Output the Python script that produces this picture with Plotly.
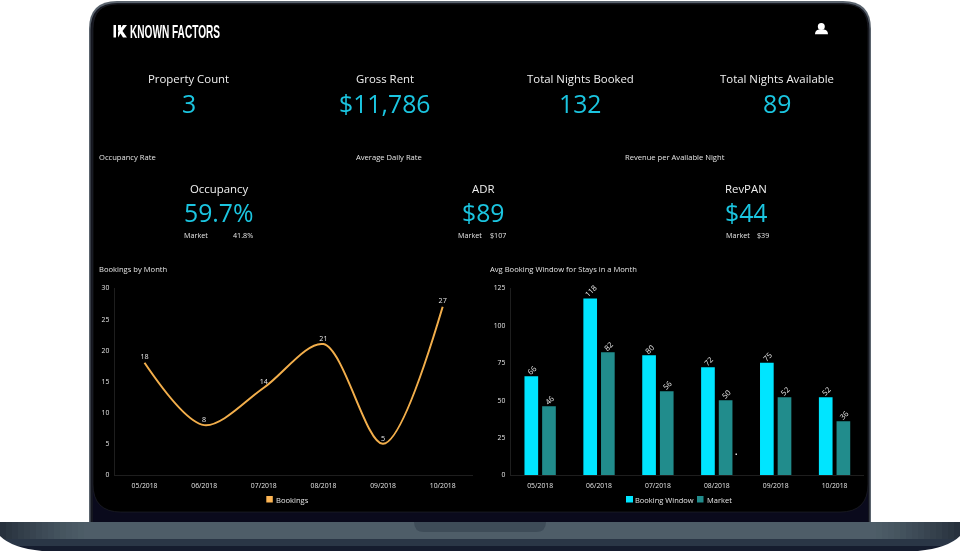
import plotly.graph_objects as go

W, H = 960, 551

# ---- data ----
months = ["05/2018", "06/2018", "07/2018", "08/2018", "09/2018", "10/2018"]
bookings = [18, 8, 14, 21, 5, 27]
booking_window = [66, 118, 80, 72, 75, 52]
market_window = [46, 82, 56, 50, 52, 36]

kpi_titles = ["Property Count", "Gross Rent", "Total Nights Booked", "Total Nights Available"]
kpi_values = ["3", "$11,786", "132", "89"]
rate_titles = ["Occupancy Rate", "Average Daily Rate", "Revenue per Available Night"]
rate_names = ["Occupancy", "ADR", "RevPAN"]
rate_values = ["59.7%", "$89", "$44"]
rate_market = ["41.8%", "$107", "$39"]

# ---- styles ----
FONT = "Open Sans"
BLUE = "#1BC5E0"
CYAN = "#00E5FF"
TEAL = "#218C8C"
ORANGE = "#F2AE4B"
SWATCH = "#FDB554"
TXT = "#F0F0F0"
SMALL = "#E4E4E4"


def px(x):
    return x / W


def py(y):
    return 1 - y / H


def P(*parts):
    out = []
    for part in parts:
        cmd, *v = part
        coords = []
        for i in range(0, len(v), 2):
            coords.append(f"{px(v[i]):.5f},{py(v[i+1]):.5f}")
        out.append(cmd + " " + " ".join(coords))
    return " ".join(out)


shapes = []


def path(d, fill, line=None, lw=0, layer="below"):
    shapes.append(dict(type="path", xref="paper", yref="paper", path=d, fillcolor=fill,
                       line=dict(color=line or fill, width=lw), layer=layer))


def rect(x0, y0, x1, y1, fill, layer="below"):
    shapes.append(dict(type="rect", xref="paper", yref="paper", x0=px(x0), x1=px(x1),
                       y0=py(y1), y1=py(y0), fillcolor=fill, line=dict(width=0), layer=layer))


def rrect(x0, y0, x1, y1, r, rb=None):
    rb = r if rb is None else rb
    return P(("M", x0 + r, y0), ("L", x1 - r, y0), ("Q", x1, y0, x1, y0 + r),
             ("L", x1, y1 - rb), ("Q", x1, y1, x1 - rb, y1), ("L", x0 + rb, y1),
             ("Q", x0, y1, x0, y1 - rb), ("L", x0, y0 + r), ("Q", x0, y0, x0 + r, y0)) + " Z"


# ---- laptop lid ----
path(rrect(89, 1, 871, 540, 28, 1), "#5A636D")
path(rrect(90.5, 3, 869.5, 540, 27, 1), "#14161F")
rect(93, 30, 868, 522, "#0A0A1C")
path(rrect(93, 4, 868, 512, 25, 28), "#000000", "#23252C", 0.6)

# ---- laptop base ----
rect(0, 522, 960, 539, "#4E5D68")
rect(0, 539, 960, 546, "#2A3646")
rect(0, 546, 960, 551, "#151C2E")
for k in range(14):
    x0, x1 = k * 6, (k + 1) * 6
    a = 0.66 * (1 - k / 14) ** 1.3
    rect(x0, 522, x1, 539, f"rgba(20,28,40,{a:.3f})")
    rect(W - x1, 522, W - x0, 539, f"rgba(20,28,40,{a:.3f})")
path(P(("M", 0, 536), ("Q", 12, 548, 42, 551), ("L", 0, 551)) + " Z", "#FFFFFF")
path(P(("M", 960, 536), ("Q", 948, 548, 918, 551), ("L", 960, 551)) + " Z", "#FFFFFF")
path(P(("M", 414, 522), ("L", 546, 522), ("Q", 546, 532, 536, 532), ("L", 424, 532), ("Q", 414, 532, 414, 522)) + " Z",
     "#3E4C58")

# ---- logo mark ----
rect(113.5, 25, 116, 37.5, "#FFFFFF", layer="above")
path(P(("M", 118, 25), ("L", 121, 25), ("L", 121, 29.5), ("L", 118, 31)) + " Z", "#FFFFFF", layer="above")
path(P(("M", 123, 25), ("L", 127, 25), ("L", 122.5, 31), ("L", 127, 37.5), ("L", 123, 37.5), ("L", 120.5, 33.5), ("L", 118, 37.5), ("L", 118, 32)) + " Z",
     "#FFFFFF", layer="above")

# ---- user icon ----
shapes.append(dict(type="circle", xref="paper", yref="paper", x0=px(817.8), x1=px(824.8),
                   y0=py(30), y1=py(23), fillcolor="#FFFFFF", line=dict(width=0), layer="above"))
path(P(("M", 815, 34.3), ("Q", 815, 30, 819, 29.5), ("L", 824, 29.5), ("Q", 828, 30, 828, 34.3)) + " Z",
     "#FFFFFF", layer="above")

# ---- legend swatches ----
rect(266.3, 496, 272.8, 502.5, SWATCH, layer="above")
rect(626, 496, 633, 502.5, CYAN, layer="above")
rect(697, 496, 703.5, 502.5, TEAL, layer="above")

# ---- small speck in the screen ----
rect(735.5, 453.5, 737, 455, "#DDDDDD", layer="above")

annotations = []


def text(s, x, y, size, color=TXT, anchor="center", family=FONT):
    if anchor == "left":
        x -= 1
    annotations.append(dict(text=s, x=px(x), y=py(y), xref="paper", yref="paper", showarrow=False,
                            xanchor=anchor, yanchor="middle", borderpad=0, align=anchor,
                            font=dict(family=family, size=size, color=color)))


# KPI row
for t, v, x in zip(kpi_titles, kpi_values, [188.5, 385, 580.5, 777]):
    text(t, x, 79, 11.4)
    text(v, x, 102.5, 24.8, BLUE)

# Rate block
for t, x in zip(rate_titles, [99, 356, 624.5]):
    text(t, x, 156.5, 7.6, SMALL, "left")
for n, v, x in zip(rate_names, rate_values, [218.5, 483, 746]):
    text(n, x, 188, 11.4)
    text(v, x, 211.5, 24.8, BLUE)
for m, x0, x1 in zip(rate_market, [184, 458, 725.6], [233, 489.5, 757]):
    text("Market", x0, 235, 7.2, SMALL, "left")
    text(m, x1, 235, 7.2, SMALL, "left")

# Chart titles and legends
text("Bookings by Month", 98.5, 268.5, 7.6, SMALL, "left")
text("Avg Booking Window for Stays in a Month", 490, 268.5, 7.6, SMALL, "left")
text("Bookings", 275.5, 499.5, 7.6, SMALL, "left")
text("Booking Window", 634.5, 499.5, 7.5, SMALL, "left")
text("Market", 706.5, 499.5, 7.5, SMALL, "left")

# Logo word
text("<b>KNOWN FACTORS</b>", 130, 31.5, 17.5, "#FFFFFF", "left", "Liberation Sans")

fig = go.Figure()

fig.add_trace(go.Scatter(
    x=months, y=bookings, mode="lines+text", text=[str(v) for v in bookings],
    textposition="top center", textfont=dict(family=FONT, size=7.2, color="#E6E6E6"),
    line=dict(color=ORANGE, width=2, shape="spline", smoothing=0.9),
    xaxis="x", yaxis="y", cliponaxis=False, showlegend=False, name="Bookings",
))
fig.add_trace(go.Bar(
    x=months, y=booking_window, name="Booking Window", marker=dict(color=CYAN, line=dict(width=0)),
    text=[str(v) for v in booking_window], textposition="outside", textangle=-45,
    textfont=dict(family=FONT, size=7.6, color="#E6E6E6"), cliponaxis=False,
    xaxis="x2", yaxis="y2", showlegend=False,
))
fig.add_trace(go.Bar(
    x=months, y=market_window, name="Market", marker=dict(color=TEAL, line=dict(width=0)),
    text=[str(v) for v in market_window], textposition="outside", textangle=-45,
    textfont=dict(family=FONT, size=7.6, color="#E6E6E6"), cliponaxis=False,
    xaxis="x2", yaxis="y2", showlegend=False,
))

tickfont = dict(family=FONT, size=6.8, color=SMALL)
x_common = dict(showgrid=False, zeroline=False, showline=True, linecolor="#1E1E1E", linewidth=1,
                ticks="", tickfont=tickfont, type="category", range=[-0.5, 5.5], ticklabelstandoff=4)
y_common = dict(showgrid=False, zeroline=False, showline=True, linecolor="#1E1E1E", linewidth=1,
                ticks="", tickfont=tickfont, ticklabelstandoff=3)

fig.update_layout(
    width=W, height=H, autosize=False,
    margin=dict(l=0, r=0, t=0, b=0, pad=0, autoexpand=False),
    paper_bgcolor="#FFFFFF", plot_bgcolor="rgba(0,0,0,0)",
    showlegend=False, barmode="group", bargap=0.4, bargroupgap=0.226,
    xaxis=dict(domain=[px(114.7), px(472.5)], anchor="y", **x_common),
    yaxis=dict(domain=[py(475), py(288)], anchor="x", range=[0, 30], tick0=0, dtick=5, **y_common),
    xaxis2=dict(domain=[px(510.7), px(864)], anchor="y2", **x_common),
    yaxis2=dict(domain=[py(475), py(288)], anchor="x2", range=[0, 125], tick0=0, dtick=25, **y_common),
    shapes=shapes, annotations=annotations,
)

post = """
document.body.style.margin='0';
document.documentElement.style.overflow='hidden';
var tuned=false;
function tune(){
  if(tuned) return;
  var labels=document.querySelectorAll('.bars .bartext');
  if(!labels.length) return;
  tuned=true;
  document.querySelectorAll('.annotation-text').forEach(function(t){
    if(t.textContent==='KNOWN FACTORS'){
      t.setAttribute('textLength','90');
      t.setAttribute('lengthAdjust','spacingAndGlyphs');
    }
  });
  labels.forEach(function(t){
    t.setAttribute('transform','translate(0.5,3.5) '+(t.getAttribute('transform')||''));
  });
  document.querySelectorAll('.textpoint text').forEach(function(t){
    t.setAttribute('transform','translate(0,-1.5) '+(t.getAttribute('transform')||''));
  });
  var c=document.querySelector('.svg-container');
  if(c) c.style.filter='blur(0.35px)';
}
tune();
setTimeout(tune,50);
setTimeout(tune,300);
"""

fig.write_html("out.html", config=dict(displayModeBar=False), post_script=post)
